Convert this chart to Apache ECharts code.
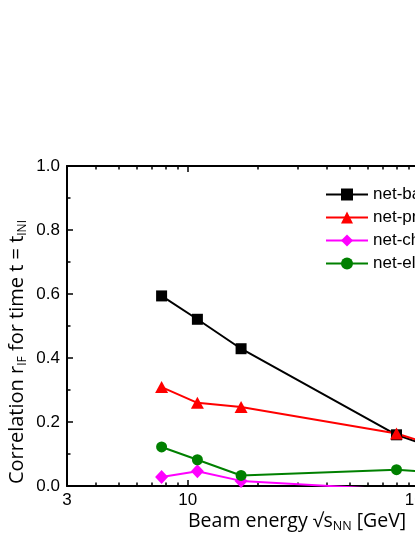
<!DOCTYPE html>
<html><head><meta charset="utf-8">
<script src="https://cdn.jsdelivr.net/npm/echarts@6/dist/echarts.min.js"></script>
<style>html,body{margin:0;padding:0;background:#fff}#c{width:415px;height:537px}</style>
</head><body><div id="c"></div>
<script>
// Beam energy sqrt(s_NN) in GeV
const energies = [7.7, 11, 17, 80, 200];
// Correlation r_IF values
const netBaryon   = [0.594, 0.521, 0.429, 0.160, 0.060];
const netProton   = [0.309, 0.260, 0.247, 0.164, 0.075];
const netCharge   = [0.028, 0.046, 0.016, -0.012, -0.020];
const netElectric = [0.122, 0.082, 0.033, 0.051, 0.030];
const seriesNames = ['net-baryon', 'net-proton', 'net-charge', 'net-electric charge'];
// tick labels / tick positions
const xMajorTicks = [3, 10, 100, 1000];
const xMinorTicks = [4, 5, 6, 7, 8, 9, 20, 30, 40, 50, 60, 70, 80, 90, 200, 300, 400, 500, 600, 700, 800, 900];
const yTickLabels = ['0.0', '0.2', '0.4', '0.6', '0.8', '1.0'];

const pairs = arr => energies.map((e, i) => [e, arr[i]]);
const FONT = 'Liberation Sans';
const TFONT = 'Open Sans';

const xBase = {type: 'log', logBase: 10, min: 3, max: 1000, gridIndex: 0, splitLine: {show: false}};
function xAxisDef(pos, ticks, len, withLabel, withLine) {
  return Object.assign({}, xBase, {
    position: pos,
    axisLine: {show: withLine, onZero: false, lineStyle: {color: '#000', width: 2}},
    axisTick: {show: true, inside: true, length: len, customValues: ticks, lineStyle: {color: '#000', width: 1.5}},
    axisLabel: withLabel ? {show: true, customValues: xMajorTicks, margin: 6, color: '#000', fontSize: 17, fontFamily: FONT,
      formatter: v => String(Math.round(v))} : {show: false}
  });
}

const chart = echarts.init(document.getElementById('c'), null, {renderer: 'canvas'});
chart.setOption({
  animation: false,
  backgroundColor: '#fff',
  grid: {left: 67, top: 166, width: 583, height: 320, containLabel: false, outerBoundsMode: 'none'},
  xAxis: [
    xAxisDef('bottom', xMajorTicks, 6, true, true),
    xAxisDef('bottom', xMinorTicks, 3.5, false, false),
    xAxisDef('top', xMajorTicks, 6, false, true),
    xAxisDef('top', xMinorTicks, 3.5, false, false)
  ],
  yAxis: [{
    type: 'value', min: 0, max: 1, interval: 0.2, position: 'left',
    splitLine: {show: false},
    axisLine: {show: true, onZero: false, lineStyle: {color: '#000', width: 2}},
    axisTick: {inside: true, length: 6, lineStyle: {color: '#000', width: 1.5}},
    minorTick: {show: true, splitNumber: 2, length: 3.5, lineStyle: {color: '#000', width: 1.5}},
    axisLabel: {margin: 7, color: '#000', fontSize: 17, fontFamily: FONT,
      formatter: (v) => yTickLabels[Math.round(v * 5)]}
  }],
  legend: {
    orient: 'vertical', left: 320, top: 181, padding: 5, selectedMode: false,
    itemWidth: 42, itemHeight: 15, itemGap: 6,
    textStyle: {fontSize: 17, fontFamily: FONT, color: '#000'},
    data: seriesNames
  },
  series: [
    {name: seriesNames[0], type: 'line', data: pairs(netBaryon), symbol: 'rect', symbolSize: 11,
      itemStyle: {color: '#000'}, lineStyle: {color: '#000', width: 2}},
    {name: seriesNames[1], type: 'line', data: pairs(netProton), symbol: 'triangle', symbolSize: [13, 12],
      itemStyle: {color: '#ff0000'}, lineStyle: {color: '#ff0000', width: 2}},
    {name: seriesNames[2], type: 'line', data: pairs(netCharge), symbol: 'diamond', symbolSize: [13, 14],
      itemStyle: {color: '#ff00ff'}, lineStyle: {color: '#ff00ff', width: 2}},
    {name: seriesNames[3], type: 'line', data: pairs(netElectric), symbol: 'circle', symbolSize: 11,
      itemStyle: {color: '#008000'}, lineStyle: {color: '#008000', width: 2}}
  ],
  graphic: [
    {type: 'text', x: 17, y: 352, rotation: Math.PI / 2,
      style: {text: '{a|Correlation r}{s|IF}{a| for time t = t}{s|INI}', align: 'center', verticalAlign: 'middle',
        rich: {a: {fontSize: 20, fontFamily: TFONT, lineHeight: 24, fill: '#000'},
               s: {fontSize: 12, fontFamily: TFONT, lineHeight: 12, verticalAlign: 'bottom', fill: '#000'}}}},
    {type: 'text', x: 188, y: 521,
      style: {text: '{a|Beam energy √s}{s|NN}{a| [GeV]}', align: 'left', verticalAlign: 'middle',
        rich: {a: {fontSize: 19.5, fontFamily: TFONT, lineHeight: 24, fill: '#000'},
               s: {fontSize: 12.5, fontFamily: TFONT, lineHeight: 12, verticalAlign: 'bottom', fill: '#000'}}}}
  ]
});
</script></body></html>
